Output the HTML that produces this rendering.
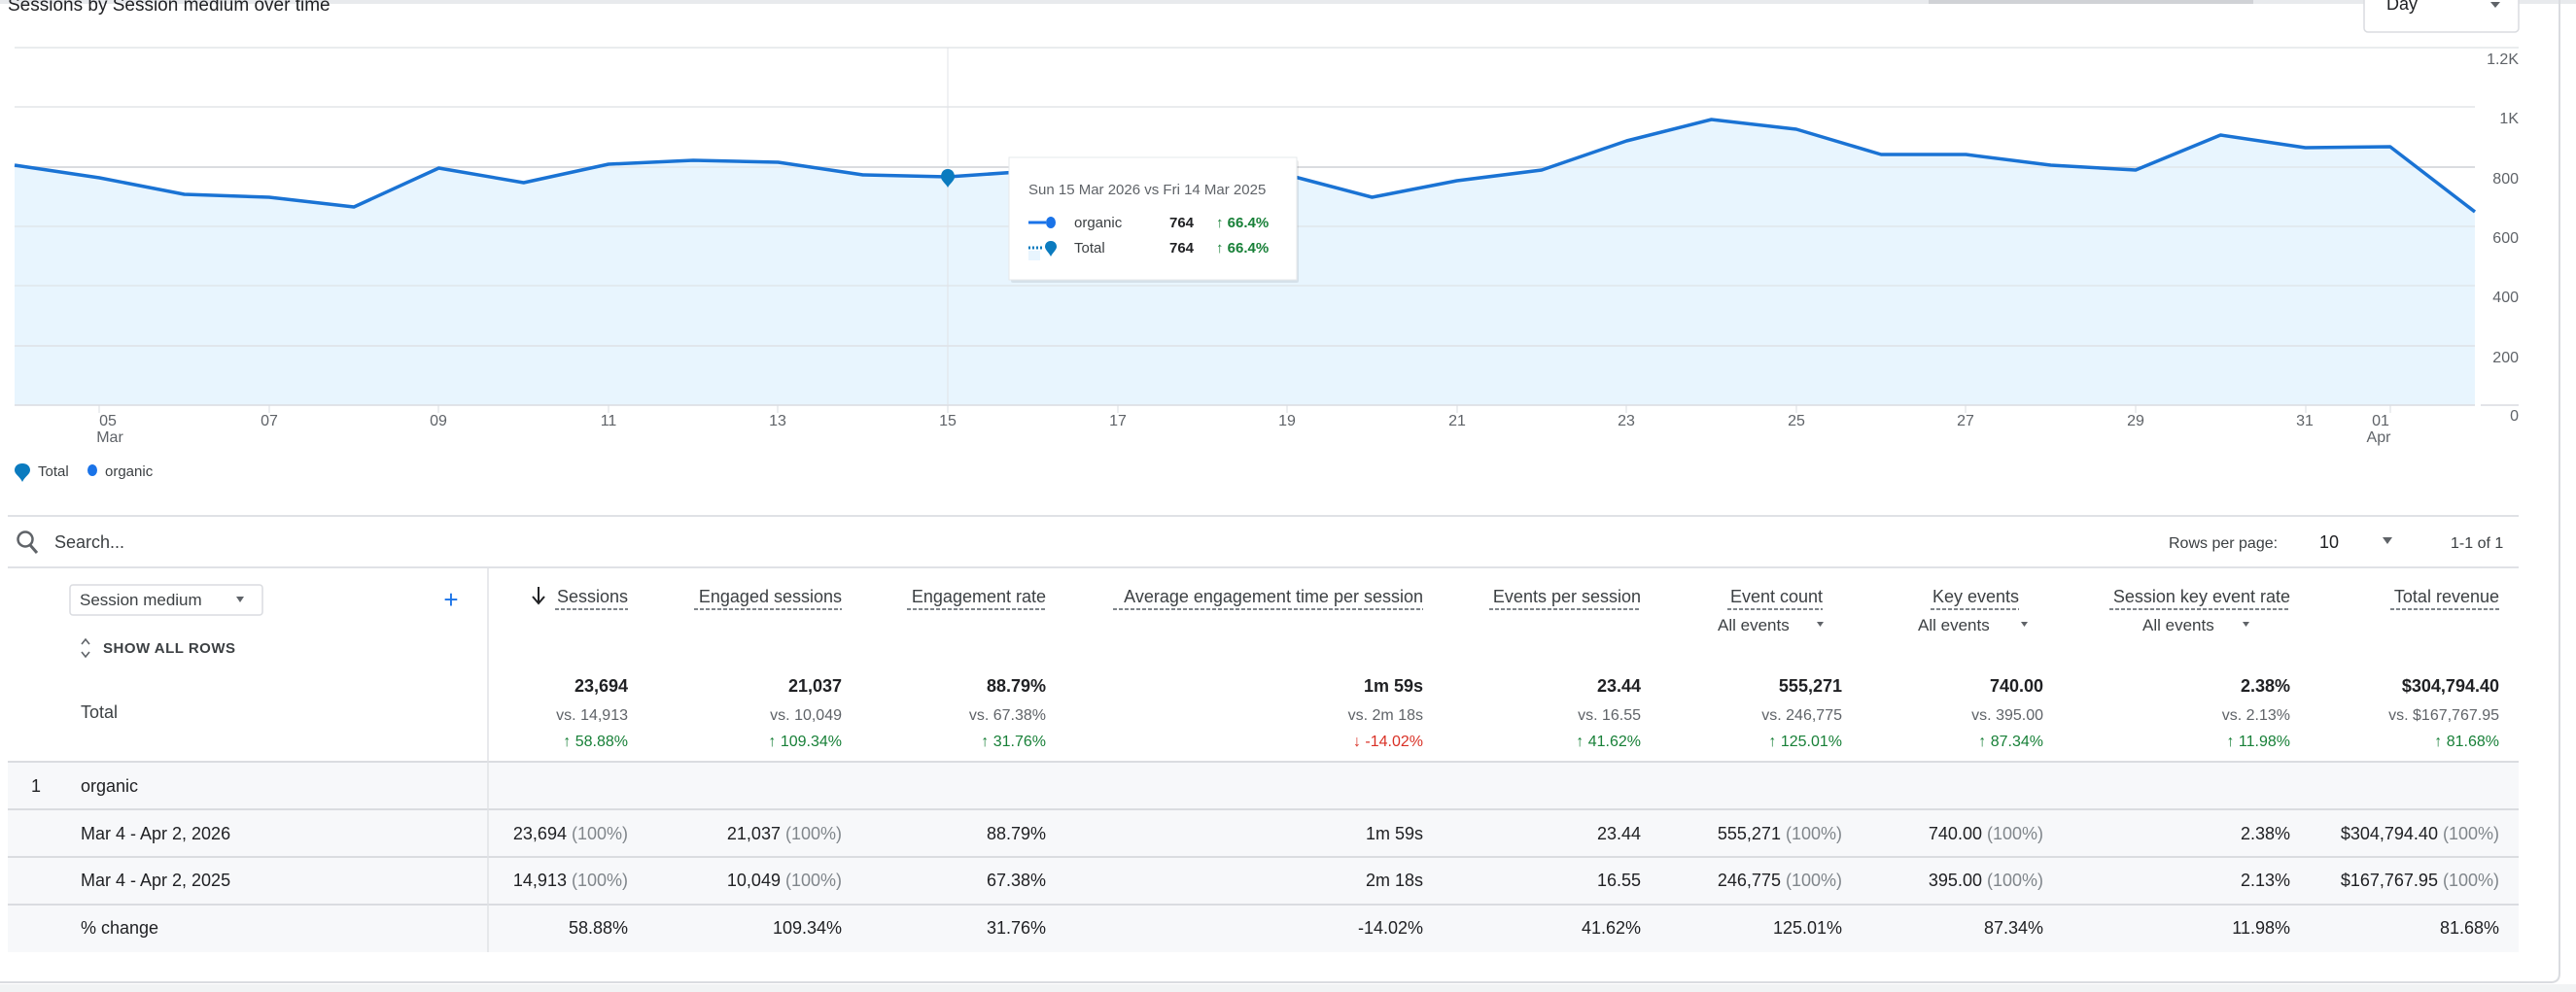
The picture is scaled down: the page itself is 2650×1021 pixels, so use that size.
<!DOCTYPE html>
<html><head><meta charset="utf-8"><style>
html,body{margin:0;padding:0;background:#fff;width:2650px;height:1021px;overflow:hidden}
svg{display:block;font-family:"Liberation Sans",Arial,sans-serif}
.ax{font-size:16px;fill:#5f6368}
.h{font-size:18px;fill:#3c4043}
.v{font-size:18px;fill:#202124}
.g{fill:#80868b}
.s{font-size:16px;fill:#5f6368}
.up{font-size:16px;fill:#188038}
.dn{font-size:16px;fill:#d93025}
</style></head><body>
<svg width="2650" height="1021" viewBox="0 0 2650 1021" xmlns="http://www.w3.org/2000/svg">
<!-- card frame -->
<rect x="0" y="0" width="2650" height="4" fill="#e8eaed"/>
<rect x="1984" y="0" width="334" height="4" fill="#d0d2d6"/>
<path d="M2633 0 V1002 Q2633 1011 2624 1011 H0" fill="none" stroke="#dadce0" stroke-width="2"/>
<rect x="0" y="1013" width="2650" height="8" fill="#f1f3f4"/>

<!-- title -->
<text x="8" y="11" font-size="19" fill="#202124">Sessions by Session medium over time</text>
<!-- Day dropdown -->
<rect x="2432" y="-6" width="159" height="39" rx="4" fill="#fff" stroke="#dadce0" stroke-width="1.5"/>
<text x="2455" y="10" font-size="18" fill="#202124">Day</text>
<path d="M2562 2 l10 0 l-5 6 z" fill="#5f6368"/>

<!-- gridlines -->
<g stroke="#e3e5e8" stroke-width="1.5">
<line x1="15" y1="49" x2="2591" y2="49"/>
<line x1="15" y1="110" x2="2546" y2="110"/>
<line x1="15" y1="172" x2="2546" y2="172" stroke="#dadce0" stroke-width="2"/>
<line x1="15" y1="233" x2="2546" y2="233"/>
<line x1="15" y1="294" x2="2546" y2="294"/>
<line x1="15" y1="356" x2="2546" y2="356" stroke="#dadce0" stroke-width="2"/>
</g>
<!-- area -->
<path fill="#e8f5fe" d="M15 170 L102.3 183 L189.6 200 L276.8 203 L364.1 213 L451.4 173 L538.7 188 L626 169 L713.2 165 L800.5 167 L887.8 180 L975.1 182 L1062.4 176 L1149.6 169 L1236.9 168 L1324.2 180 L1411.5 203 L1498.8 186 L1586 175 L1673.3 145 L1760.6 123 L1847.9 133 L1935.2 159 L2022.4 159 L2109.7 170 L2197 175 L2284.3 139 L2371.6 152 L2458.8 151 L2546 218 L2546 417 L15 417 Z"/>
<g stroke="#dadce0" stroke-width="1.5">
<line x1="15" y1="172" x2="2546" y2="172" stroke-opacity="0.6"/>
<line x1="15" y1="233" x2="2546" y2="233" stroke-opacity="0.6"/>
<line x1="15" y1="294" x2="2546" y2="294" stroke-opacity="0.6"/>
<line x1="15" y1="356" x2="2546" y2="356" stroke-opacity="0.8"/>
<line x1="15" y1="417" x2="2546" y2="417"/>
<line x1="2552" y1="417" x2="2591" y2="417"/>
</g>
<line x1="975" y1="49" x2="975" y2="417" stroke="#e0e3e7" stroke-width="1"/>
<polyline fill="none" stroke="#1a73d4" stroke-width="3.5" stroke-linejoin="round" points="15,170 102.3,183 189.6,200 276.8,203 364.1,213 451.4,173 538.7,188 626,169 713.2,165 800.5,167 887.8,180 975.1,182 1062.4,176 1149.6,169 1236.9,168 1324.2,180 1411.5,203 1498.8,186 1586,175 1673.3,145 1760.6,123 1847.9,133 1935.2,159 2022.4,159 2109.7,170 2197,175 2284.3,139 2371.6,152 2458.8,151 2546,218"/>
<!-- marker -->
<path d="M975 174 c-5 0 -7 4 -7 8 c0 4 5 7 7 11 c2 -4 7 -7 7 -11 c0 -4 -2 -8 -7 -8 z" fill="#0b7bbf"/>

<!-- y labels -->
<g class="ax" text-anchor="end">
<text x="2591" y="66">1.2K</text>
<text x="2591" y="127">1K</text>
<text x="2591" y="189">800</text>
<text x="2591" y="250">600</text>
<text x="2591" y="311">400</text>
<text x="2591" y="373">200</text>
<text x="2591" y="433">0</text>
</g>
<!-- x ticks -->
<g stroke="#dadce0" stroke-width="1">
<line x1="102" y1="417" x2="102" y2="425"/><line x1="277" y1="417" x2="277" y2="425"/><line x1="451" y1="417" x2="451" y2="425"/><line x1="626" y1="417" x2="626" y2="425"/><line x1="800" y1="417" x2="800" y2="425"/><line x1="975" y1="417" x2="975" y2="425"/><line x1="1150" y1="417" x2="1150" y2="425"/><line x1="1324" y1="417" x2="1324" y2="425"/><line x1="1499" y1="417" x2="1499" y2="425"/><line x1="1673" y1="417" x2="1673" y2="425"/><line x1="1848" y1="417" x2="1848" y2="425"/><line x1="2022" y1="417" x2="2022" y2="425"/><line x1="2197" y1="417" x2="2197" y2="425"/><line x1="2372" y1="417" x2="2372" y2="425"/><line x1="2459" y1="417" x2="2459" y2="425"/>
</g>
<g class="ax" text-anchor="middle">
<text x="111" y="438">05</text><text x="113" y="455">Mar</text>
<text x="277" y="438">07</text><text x="451" y="438">09</text><text x="626" y="438">11</text><text x="800" y="438">13</text><text x="975" y="438">15</text><text x="1150" y="438">17</text><text x="1324" y="438">19</text><text x="1499" y="438">21</text><text x="1673" y="438">23</text><text x="1848" y="438">25</text><text x="2022" y="438">27</text><text x="2197" y="438">29</text><text x="2371" y="438">31</text><text x="2449" y="438">01</text><text x="2447" y="455">Apr</text>
</g>

<!-- tooltip -->
<rect x="1040" y="165" width="296" height="126" fill="#000" opacity="0.08" rx="2"/>
<rect x="1038" y="162" width="296" height="126" fill="#fff" stroke="#e6e8eb"/>
<text x="1058" y="200" font-size="15" fill="#5f6368">Sun 15 Mar 2026 vs Fri 14 Mar 2025</text>
<line x1="1058" y1="229" x2="1076" y2="229" stroke="#1a73e8" stroke-width="3"/>
<ellipse cx="1081" cy="229" rx="5" ry="6" fill="#1a73e8"/>
<text x="1105" y="234" font-size="15" fill="#3c4043">organic</text>
<text x="1203" y="234" font-size="15" font-weight="bold" fill="#202124">764</text>
<text x="1251" y="234" font-size="15" font-weight="bold" fill="#188038">↑ 66.4%</text>
<rect x="1058" y="258" width="12" height="10" fill="#e8f5fe"/>
<line x1="1058" y1="255" x2="1074" y2="255" stroke="#0b7bbf" stroke-width="3" stroke-dasharray="2 2"/>
<path d="M1081 248 c-4 0 -6 3 -6 6 c0 3 4 6 6 10 c2 -4 6 -7 6 -10 c0 -3 -2 -6 -6 -6 z" fill="#0b7bbf"/>
<text x="1105" y="260" font-size="15" fill="#3c4043">Total</text>
<text x="1203" y="260" font-size="15" font-weight="bold" fill="#202124">764</text>
<text x="1251" y="260" font-size="15" font-weight="bold" fill="#188038">↑ 66.4%</text>

<!-- legend -->
<path d="M23 477 c-5 0 -8 3 -8 7 c0 4 5 6 8 12 c3 -6 8 -8 8 -12 c0 -4 -3 -7 -8 -7 z" fill="#0b7bbf"/>
<text x="39" y="490" font-size="15" fill="#3c4043">Total</text>
<ellipse cx="95" cy="484" rx="5" ry="6" fill="#1a73e8"/>
<text x="108" y="490" font-size="15" fill="#3c4043">organic</text>

<!-- table -->
<line x1="8" y1="531" x2="2591" y2="531" stroke="#e0e2e6" stroke-width="2"/>
<circle cx="26" cy="555" r="7.5" fill="none" stroke="#5f6368" stroke-width="2.5"/>
<line x1="31" y1="561" x2="38" y2="569" stroke="#5f6368" stroke-width="3"/>
<text x="56" y="564" font-size="18" fill="#3c4043">Search...</text>
<text x="2231" y="564" font-size="16" fill="#3c4043">Rows per page:</text>
<text x="2386" y="564" font-size="18" fill="#202124">10</text>
<path d="M2451 553 l10 0 l-5 7 z" fill="#5f6368"/>
<text x="2521" y="564" font-size="16" fill="#3c4043">1-1 of 1</text>
<line x1="8" y1="584" x2="2591" y2="584" stroke="#e0e2e6" stroke-width="2"/>

<!-- row backgrounds -->
<rect x="8" y="784" width="2583" height="196" fill="#f7f8fa"/>
<g stroke="#dadce0" stroke-width="2">
<line x1="8" y1="784" x2="2591" y2="784"/>
<line x1="8" y1="833" x2="2591" y2="833"/>
<line x1="8" y1="882" x2="2591" y2="882"/>
<line x1="8" y1="931" x2="2591" y2="931"/>
</g>
<line x1="502" y1="584" x2="502" y2="980" stroke="#e0e2e6" stroke-width="1.5"/>

<!-- header left -->
<rect x="72" y="602" width="198" height="31" rx="3" fill="#fff" stroke="#dadce0" stroke-width="1.5"/>
<text x="82" y="623" font-size="17" fill="#3c4043">Session medium</text>
<path d="M243 614 l8 0 l-4 6 z" fill="#5f6368"/>
<text x="464" y="626" font-size="26" fill="#1a73e8" text-anchor="middle">+</text>
<path d="M84 663 l4 -5 l4 5 M84 671 l4 5 l4 -5" fill="none" stroke="#5f6368" stroke-width="1.6"/>
<text x="106" y="672" font-size="15" fill="#3c4043" font-weight="bold" letter-spacing="0.5">SHOW ALL ROWS</text>
<text x="83" y="739" font-size="18" fill="#3c4043">Total</text>

<!-- headers -->
<g class="h" text-anchor="end">
<text x="646" y="620">Sessions</text>
<text x="866" y="620">Engaged sessions</text>
<text x="1076" y="620">Engagement rate</text>
<text x="1464" y="620">Average engagement time per session</text>
<text x="1688" y="620">Events per session</text>
<text x="1875" y="620">Event count</text>
<text x="2077" y="620">Key events</text>
<text x="2356" y="620">Session key event rate</text>
<text x="2571" y="620">Total revenue</text>
</g>
<path d="M554 604 v16 M548 614 l6 7 l6 -7" fill="none" stroke="#202124" stroke-width="2"/>
<g stroke="#80868b" stroke-width="2" stroke-dasharray="4 2">
<line x1="571" y1="627" x2="646" y2="627"/>
<line x1="714" y1="627" x2="866" y2="627"/>
<line x1="933" y1="627" x2="1076" y2="627"/>
<line x1="1145" y1="627" x2="1464" y2="627"/>
<line x1="1532" y1="627" x2="1688" y2="627"/>
<line x1="1777" y1="627" x2="1875" y2="627"/>
<line x1="1986" y1="627" x2="2077" y2="627"/>
<line x1="2170" y1="627" x2="2356" y2="627"/>
<line x1="2459" y1="627" x2="2571" y2="627"/>
</g>
<g font-size="17" fill="#3c4043">
<text x="1767" y="649">All events</text><path d="M1869 640 l7 0 l-3.5 5 z" fill="#5f6368"/>
<text x="1973" y="649">All events</text><path d="M2079 640 l7 0 l-3.5 5 z" fill="#5f6368"/>
<text x="2204" y="649">All events</text><path d="M2307 640 l7 0 l-3.5 5 z" fill="#5f6368"/>
</g>

<!-- totals -->
<g class="v" font-weight="bold" text-anchor="end">
<text x="646" y="712">23,694</text><text x="866" y="712">21,037</text><text x="1076" y="712">88.79%</text><text x="1464" y="712">1m 59s</text><text x="1688" y="712">23.44</text><text x="1895" y="712">555,271</text><text x="2102" y="712">740.00</text><text x="2356" y="712">2.38%</text><text x="2571" y="712">$304,794.40</text>
</g>
<g class="s" text-anchor="end">
<text x="646" y="741">vs. 14,913</text><text x="866" y="741">vs. 10,049</text><text x="1076" y="741">vs. 67.38%</text><text x="1464" y="741">vs. 2m 18s</text><text x="1688" y="741">vs. 16.55</text><text x="1895" y="741">vs. 246,775</text><text x="2102" y="741">vs. 395.00</text><text x="2356" y="741">vs. 2.13%</text><text x="2571" y="741">vs. $167,767.95</text>
</g>
<g class="up" text-anchor="end">
<text x="646" y="768">↑ 58.88%</text><text x="866" y="768">↑ 109.34%</text><text x="1076" y="768">↑ 31.76%</text><text x="1688" y="768">↑ 41.62%</text><text x="1895" y="768">↑ 125.01%</text><text x="2102" y="768">↑ 87.34%</text><text x="2356" y="768">↑ 11.98%</text><text x="2571" y="768">↑ 81.68%</text>
</g>
<text class="dn" x="1464" y="768" text-anchor="end">↓ -14.02%</text>

<!-- rows -->
<text class="v" x="32" y="815">1</text>
<text class="v" x="83" y="815">organic</text>
<text class="v" x="83" y="864">Mar 4 - Apr 2, 2026</text>
<text class="v" x="83" y="912">Mar 4 - Apr 2, 2025</text>
<text class="v" x="83" y="961">% change</text>

<g class="v" text-anchor="end">
<text x="646" y="864">23,694 <tspan class="g">(100%)</tspan></text>
<text x="866" y="864">21,037 <tspan class="g">(100%)</tspan></text>
<text x="1076" y="864">88.79%</text>
<text x="1464" y="864">1m 59s</text>
<text x="1688" y="864">23.44</text>
<text x="1895" y="864">555,271 <tspan class="g">(100%)</tspan></text>
<text x="2102" y="864">740.00 <tspan class="g">(100%)</tspan></text>
<text x="2356" y="864">2.38%</text>
<text x="2571" y="864">$304,794.40 <tspan class="g">(100%)</tspan></text>

<text x="646" y="912">14,913 <tspan class="g">(100%)</tspan></text>
<text x="866" y="912">10,049 <tspan class="g">(100%)</tspan></text>
<text x="1076" y="912">67.38%</text>
<text x="1464" y="912">2m 18s</text>
<text x="1688" y="912">16.55</text>
<text x="1895" y="912">246,775 <tspan class="g">(100%)</tspan></text>
<text x="2102" y="912">395.00 <tspan class="g">(100%)</tspan></text>
<text x="2356" y="912">2.13%</text>
<text x="2571" y="912">$167,767.95 <tspan class="g">(100%)</tspan></text>

<text x="646" y="961">58.88%</text>
<text x="866" y="961">109.34%</text>
<text x="1076" y="961">31.76%</text>
<text x="1464" y="961">-14.02%</text>
<text x="1688" y="961">41.62%</text>
<text x="1895" y="961">125.01%</text>
<text x="2102" y="961">87.34%</text>
<text x="2356" y="961">11.98%</text>
<text x="2571" y="961">81.68%</text>
</g>
</svg>
</body></html>
